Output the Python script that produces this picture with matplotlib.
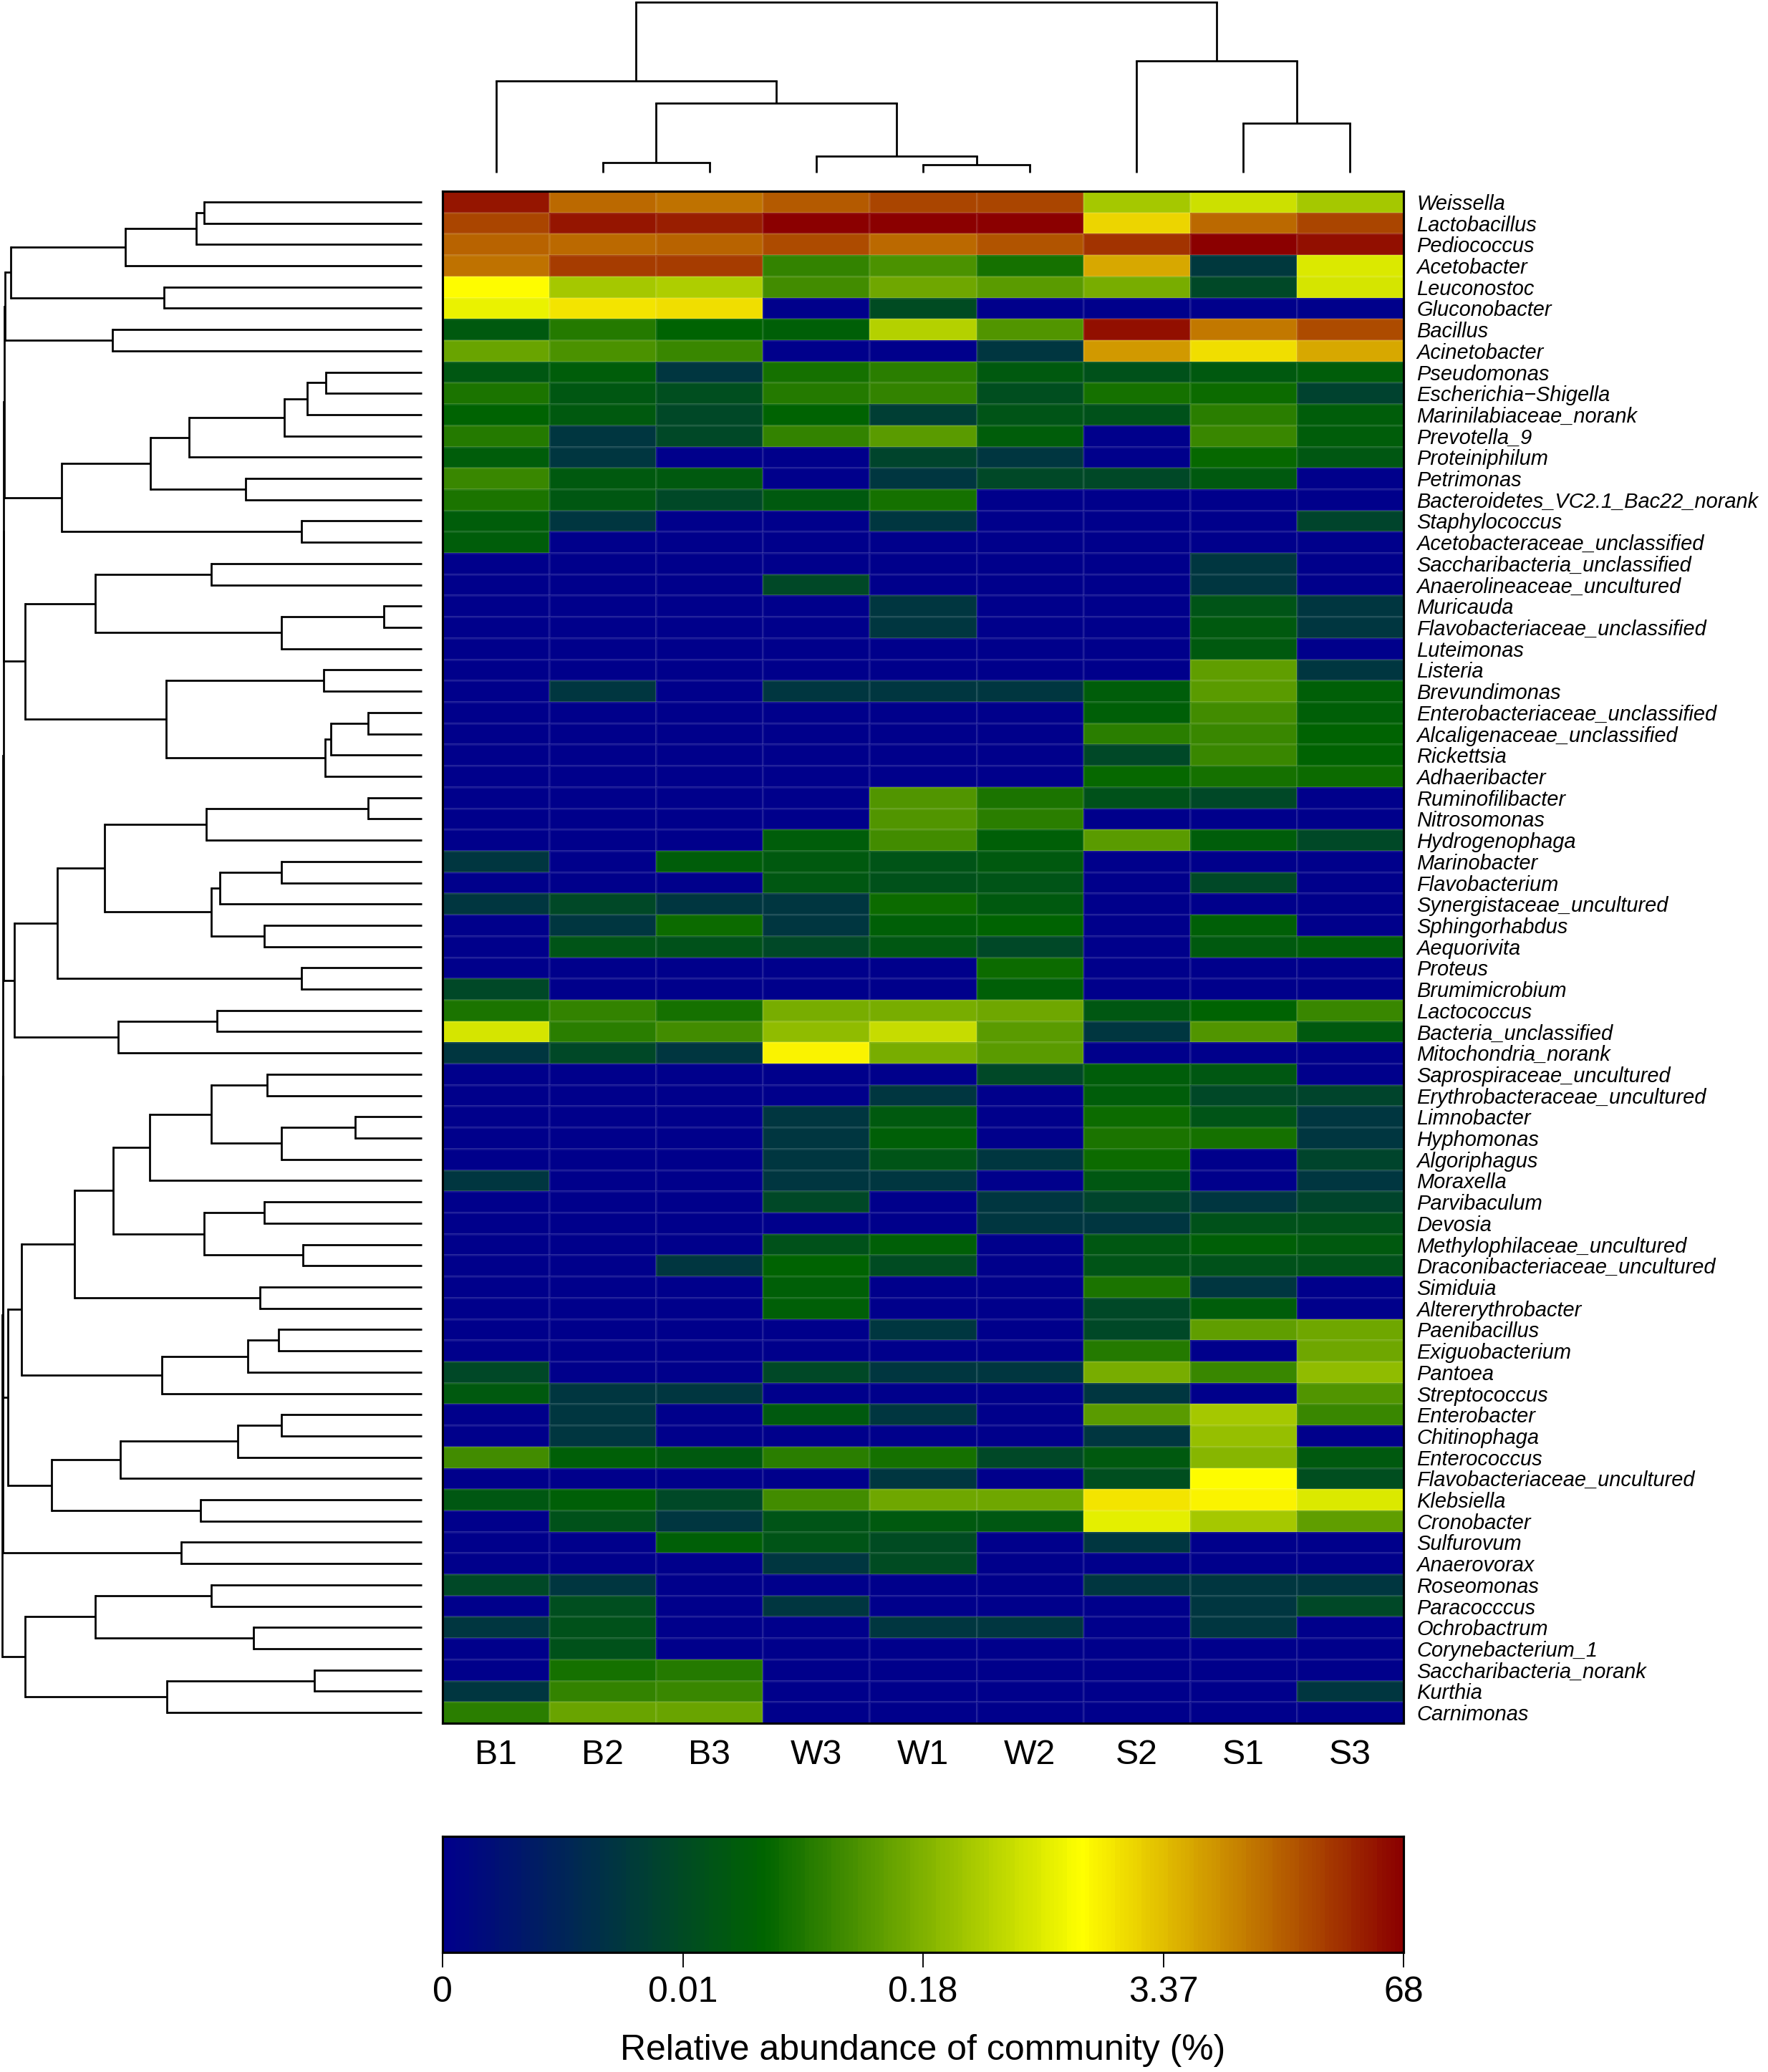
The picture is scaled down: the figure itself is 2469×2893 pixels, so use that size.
import numpy as np
import matplotlib
matplotlib.use("Agg")
import matplotlib.pyplot as plt
from matplotlib.colors import LinearSegmentedColormap

plt.rcParams['font.family'] = ['Liberation Sans', 'DejaVu Sans']

W, H = 2469, 2893
DPI = 300

samples = ["B1", "B2", "B3", "W3", "W1", "W2", "S2", "S1", "S3"]
genera = ["Weissella", "Lactobacillus", "Pediococcus", "Acetobacter", "Leuconostoc", "Gluconobacter",
          "Bacillus", "Acinetobacter", "Pseudomonas", "Escherichia\u2212Shigella", "Marinilabiaceae_norank",
          "Prevotella_9", "Proteiniphilum", "Petrimonas", "Bacteroidetes_VC2.1_Bac22_norank", "Staphylococcus",
          "Acetobacteraceae_unclassified", "Saccharibacteria_unclassified", "Anaerolineaceae_uncultured",
          "Muricauda", "Flavobacteriaceae_unclassified", "Luteimonas", "Listeria", "Brevundimonas",
          "Enterobacteriaceae_unclassified", "Alcaligenaceae_unclassified", "Rickettsia", "Adhaeribacter",
          "Ruminofilibacter", "Nitrosomonas", "Hydrogenophaga", "Marinobacter", "Flavobacterium",
          "Synergistaceae_uncultured", "Sphingorhabdus", "Aequorivita", "Proteus", "Brumimicrobium",
          "Lactococcus", "Bacteria_unclassified", "Mitochondria_norank", "Saprospiraceae_uncultured",
          "Erythrobacteraceae_uncultured", "Limnobacter", "Hyphomonas", "Algoriphagus", "Moraxella",
          "Parvibaculum", "Devosia", "Methylophilaceae_uncultured", "Draconibacteriaceae_uncultured",
          "Simiduia", "Altererythrobacter", "Paenibacillus", "Exiguobacterium", "Pantoea", "Streptococcus",
          "Enterobacter", "Chitinophaga", "Enterococcus", "Flavobacteriaceae_uncultured", "Klebsiella",
          "Cronobacter", "Sulfurovum", "Anaerovorax", "Roseomonas", "Paracocccus", "Ochrobactrum",
          "Corynebacterium_1", "Saccharibacteria_norank", "Kurthia", "Carnimonas"]

# Abundance read as position on the colour scale (0-100; the scale is logarithmic-like)
B1 = [97,91,87,85,67,64,30,47, 29,37,33,38,31,41,37,31,31, 0,0,0,0,0,0,0,0,0,0,0,
      0,0,0,18,0,18,0,0,0,24,37,61,18,
      0,0,0,0,0,18,0,0,0,0,0,0,0,0,24,30,0,0,42,0,29,0, 0,0,24,0,18,0,0,18,39]
B2 = [86,97,86,92,55,70,38,43, 31,29,30,18,18,30,29,18,0, 0,0,0,0,0,0,18,0,0,0,0,
      0,0,0,0,0,24,18,28,0,0,40,39,24,
      0,0,0,0,0,0,0,0,0,0,0,0,0,0,0,18,18,18,32,0,32,27, 0,0,18,26,27,27,36,40,47]
B3 = [85,96,87,92,56,71,33,41, 18,26,24,24,0,30,24,0,0, 0,0,0,0,0,0,0,0,0,0,0,
      0,0,0,31,0,18,35,27,0,0,36,42,18,
      0,0,0,0,0,0,0,0,0,18,0,0,0,0,0,18,0,0,30,0,24,18, 32,0,0,0,0,0,38,41,47]
W3 = [88,100,90,40,42,0,32,0, 36,38,33,40,0,0,30,0,0, 0,24,0,0,0,0,18,0,0,0,0,
      0,0,31,30,29,18,18,24,0,0,49,52,68,
      0,0,18,18,18,18,24,0,27,33,32,32,0,0,24,0,30,0,39,0,42,28, 28,18,0,18,0,0,0,0,0]
W1 = [91,100,86,43,48,25,57,0, 39,40,21,45,23,18,36,18,0, 0,0,18,18,0,0,18,0,0,0,0,
      44,44,42,28,27,35,32,29,0,0,49,59,49,
      0,18,30,32,28,18,0,0,32,25,0,0,18,0,18,0,18,0,36,18,48,30, 25,25,0,0,18,0,0,0,0]
W2 = [91,100,89,36,45,0,44,18, 30,26,28,31,18,24,0,0,0, 0,0,0,0,0,0,18,0,0,0,0,
      37,39,32,30,28,30,33,24,35,32,48,45,45,
      24,0,0,0,18,0,18,18,0,0,0,0,0,0,18,0,0,0,24,0,48,29, 0,0,0,0,18,0,0,0,0]
S2 = [55,72,93,78,49,0,98,80, 27,36,27,0,0,24,0,0,0, 0,0,0,0,0,0,31,32,39,24,34,
      27,0,45,0,0,0,0,0,0,0,29,18,0,
      31,31,35,37,35,29,23,18,29,28,37,24,24,38,49,18,45,18,30,26,70,63, 18,0,18,0,0,0,0,0,0]
S1 = [60,86,100,19,24,0,84,71, 30,35,39,41,34,30,0,0,0, 18,18,28,30,30,46,45,42,41,41,36,
      24,0,31,0,24,0,32,30,0,0,33,44,0,
      29,24,28,36,0,0,18,27,32,27,18,31,46,0,41,0,55,53,51,67,68,55, 0,0,18,18,18,0,0,0,0]
S3 = [55,91,98,62,61,0,90,78, 31,22,31,31,29,0,0,23,0, 0,0,18,18,0,18,32,32,33,33,35,
      0,0,24,0,0,0,0,31,0,0,41,30,0,
      0,23,18,18,23,18,23,27,30,27,0,0,48,48,52,44,41,0,30,26,62,46, 0,0,18,24,0,0,0,18,0]

scale_positions = [0, 25, 50, 75, 100]
scale_labels = ["0", "0.01", "0.18", "3.37", "68"]
scale_title = "Relative abundance of community (%)"
ramp = ["#00008B", "#006400", "#FFFF00", "#8B0000"]

# Dendrograms: (height, upper child, lower child); L is a leaf, leaves run in display order
L = None
sour_core = (98.0, (70.7, (53.8, (51.8, L, L), L), L), (61.5, L, L))
sour_pair = (73.8, L, L)
mid_b = (85.9, (64.6, (55.4, (32.8, (27.3, (22.8, L, L), L), L), L), (41.9, L, L)), (28.7, L, L))
mid_c = (94.6, (77.9, (50.1, L, L), (33.4, (9.1, L, L), L)),
         (61.0, (23.4, L, L), (23.1, (21.7, (12.8, L, L), L), L)))
mid_d = (97.1, (86.9, (75.6, (51.4, (12.8, L, L), L),
                       (50.1, (48.2, (33.4, L, L), L), (37.6, L, L))), (28.7, L, L)),
         (72.3, (48.8, L, L), L))
mid_e = (98.6, (95.4, (82.8, (73.5, (64.8, (50.1, (36.9, L, L), (33.4, (15.8, L, L), L)), L),
                              (51.9, (37.6, L, L), (28.3, L, L))), (38.6, L, L)),
                (62.0, (41.5, (34.1, L, L), L), L)),
         (88.2, (71.8, (43.8, (33.4, L, L), L), L), (52.7, L, L)))
low_f = (57.3, L, L)
low_g = (94.5, (77.9, (50.1, L, L), (40.1, L, L)), (60.7, (25.6, L, L), L))
row_tree = (100.0, (99.9, (99.8, (99.7, (99.6, (99.5, (99.4, sour_core, sour_pair), mid_b), mid_c), mid_d), mid_e), low_f), low_g)
col_tree = (100.0, (53.9, L, (40.9, (5.9, L, L), (9.8, L, (4.5, L, L)))), (65.4, L, (28.9, L, L)))

values = np.array([B1, B2, B3, W3, W1, W2, S2, S1, S3], dtype=float).T / 100.0
cmap = LinearSegmentedColormap.from_list("ramp", ramp, N=256)


def px_axes(x0, y0, x1, y1):
    """Axes placed by pixel box, y counted from the top of the picture."""
    return fig.add_axes([x0 / W, 1 - y1 / H, (x1 - x0) / W, (y1 - y0) / H])


def draw_tree(node, counter, seg):
    if node is None:
        pos = counter[0] + 0.5
        counter[0] += 1
        return pos, 0.0
    h, a, b = node
    pa, ha = draw_tree(a, counter, seg)
    pb, hb = draw_tree(b, counter, seg)
    seg(pa, ha, h)
    seg(pb, hb, h)
    seg(None, (pa, pb), h)
    return (pa + pb) / 2, h


fig = plt.figure(figsize=(W / DPI, H / DPI), dpi=DPI, facecolor="white")

HX0, HX1, HY0, HY1 = 618, 1960, 267, 2406
LW = 0.66

# heat map
ax = px_axes(HX0, HY0, HX1, HY1)
ax.pcolormesh(np.arange(len(samples) + 1), np.arange(len(genera) + 1), values, cmap=cmap, vmin=0, vmax=1,
              edgecolors=(1, 1, 1, 0.09), linewidth=0.25)
ax.set_xlim(0, len(samples))
ax.set_ylim(len(genera), 0)
ax.set_xticks(np.arange(len(samples)) + 0.5, samples)
ax.set_yticks(np.arange(len(genera)) + 0.5, genera)
ax.yaxis.tick_right()
ax.tick_params(axis="both", length=0)
ax.tick_params(axis="x", pad=5.2, labelsize=11.6)
ax.tick_params(axis="y", pad=4.4, labelsize=6.98)
for t in ax.get_yticklabels():
    t.set_fontstyle("italic")
for s in ax.spines.values():
    s.set_linewidth(0.75)

# left dendrogram
axl = px_axes(3, HY0, 589, HY1)
axl.set_xlim(100, 0)
axl.set_ylim(len(genera), 0)
axl.axis("off")


def seg_left(p, hs, h):
    if p is None:
        axl.plot([h, h], hs, color="black", lw=LW, solid_capstyle="projecting", clip_on=False)
    else:
        axl.plot([hs, h], [p, p], color="black", lw=LW, solid_capstyle="butt", clip_on=False)


draw_tree(row_tree, [0], seg_left)

# top dendrogram
axt = px_axes(HX0, 2.7, HX1, 241)
axt.set_xlim(0, len(samples))
axt.set_ylim(0, 100)
axt.axis("off")


def seg_top(p, hs, h):
    if p is None:
        axt.plot(hs, [h, h], color="black", lw=LW, solid_capstyle="projecting", clip_on=False)
    else:
        axt.plot([p, p], [hs, h], color="black", lw=LW, solid_capstyle="butt", clip_on=False)


draw_tree(col_tree, [0], seg_top)

# colour scale
axc = px_axes(HX0, 2564, HX1, 2726)
grad = np.linspace(0, 1, 220).reshape(1, -1)
axc.pcolormesh(np.linspace(0, 100, 221), [0, 1], grad, cmap=cmap, vmin=0, vmax=1)
axc.set_xlim(0, 100)
axc.set_ylim(0, 1)
axc.set_yticks([])
axc.set_xticks(scale_positions, scale_labels)
axc.tick_params(axis="x", length=5.0, width=0.45, pad=3.0, labelsize=12)
for s in axc.spines.values():
    s.set_linewidth(0.75)
axc.set_xlabel(scale_title, fontsize=12.0, labelpad=8.2)

fig.savefig("out.png", dpi=DPI, facecolor="white")
